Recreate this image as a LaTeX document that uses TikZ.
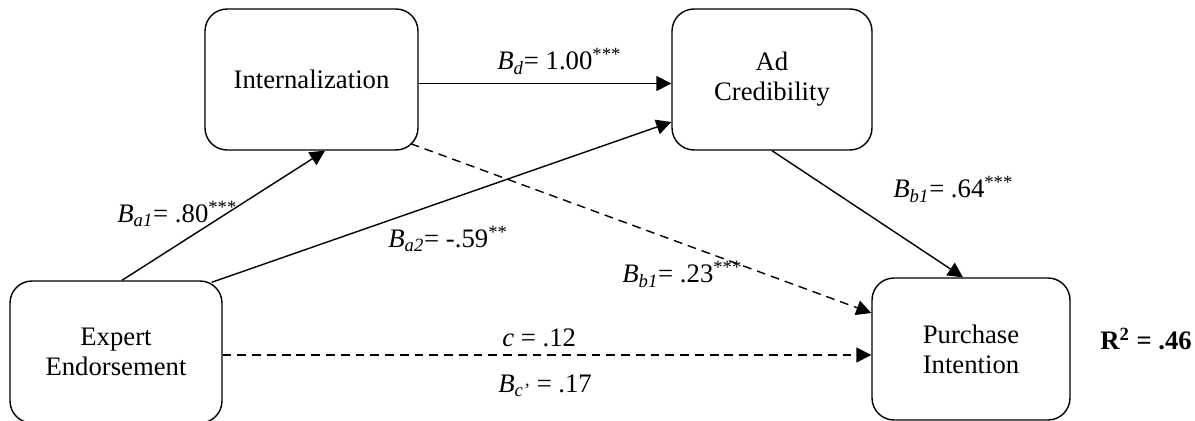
\documentclass[tikz,border=0pt]{standalone}
\usepackage{fontspec}
\setmainfont{Liberation Serif}
\usetikzlibrary{arrows.meta, positioning}

\begin{document}
\begin{tikzpicture}[
    x=0.02cm, y=-0.02cm,
    construct/.style={rectangle, draw, rounded corners=0.44cm, line width=0.8pt, minimum height=2.82cm, inner sep=0pt, align=center, font=\fontsize{15.2}{17}\selectfont},
    coef/.style={anchor=base west, inner sep=0pt, font=\fontsize{15.2}{17}\selectfont},
    arrow/.style={draw, -{Triangle[length=0.3cm, width=0.3cm]}, line width=0.8pt},
    dasharrow/.style={arrow, dash pattern=on 5pt off 3.4pt}
]
\useasboundingbox (0,0) rectangle (1195,421);

% Constructs
\node[construct, minimum width=4.26cm] (intern) at (311.5,79.5) {Internalization};
\node[construct, minimum width=4.0cm] (adcred) at (772,79.5) {Ad\\Credibility};
\node[construct, minimum width=4.24cm, minimum height=2.84cm] (expert) at (116,352) {Expert\\Endorsement};
\node[construct, minimum width=3.96cm, minimum height=2.84cm] (purchase) at (971,349) {Purchase\\Intention};

% Paths
\draw[arrow] ([yshift=-0.08cm]intern.east) -- ([yshift=-0.08cm]adcred.west);
\draw[arrow] ([xshift=0.12cm]expert.north) -- ([xshift=0.27cm]intern.south);
\draw[arrow] ([xshift=-0.22cm, yshift=-0.04cm]expert.north east) -- ([yshift=-0.85cm]adcred.west);
\draw[dasharrow] ([xshift=-0.16cm, yshift=0.14cm]intern.south east) -- ([yshift=0.72cm]purchase.west);
\draw[arrow] (adcred.south) -- ([xshift=-0.16cm]purchase.north);
\draw[dasharrow] ([yshift=-0.06cm]expert.east) -- ([yshift=-0.06cm]expert.east -| purchase.west);

% Coefficients
\node[coef] (bd) at (497,70) {\textit{B}\textsubscript{\textit{d}}= 1.00\textsuperscript{***}};
\node[coef] (ba1) at (117,223) {\textit{B}\textsubscript{\textit{a1}}= .80\textsuperscript{***}};
\node[coef] (ba2) at (388,248) {\textit{B}\textsubscript{\textit{a2}}= -.59\textsuperscript{**}};
\node[coef] (bb1i) at (622,283) {\textit{B}\textsubscript{\textit{b1}}= .23\textsuperscript{***}};
\node[coef] (bb1a) at (893,198) {\textit{B}\textsubscript{\textit{b1}}= .64\textsuperscript{***}};
\node[coef] (ctot) at (502,347) {\textit{c} = .12};
\node[coef] (cdir) at (498,393) {\textit{B}\textsubscript{\textit{c'}} = .17};
\node[coef] (rsq) at (1100,350) {\textbf{R\textsuperscript{2} = .46}};

\end{tikzpicture}
\end{document}
